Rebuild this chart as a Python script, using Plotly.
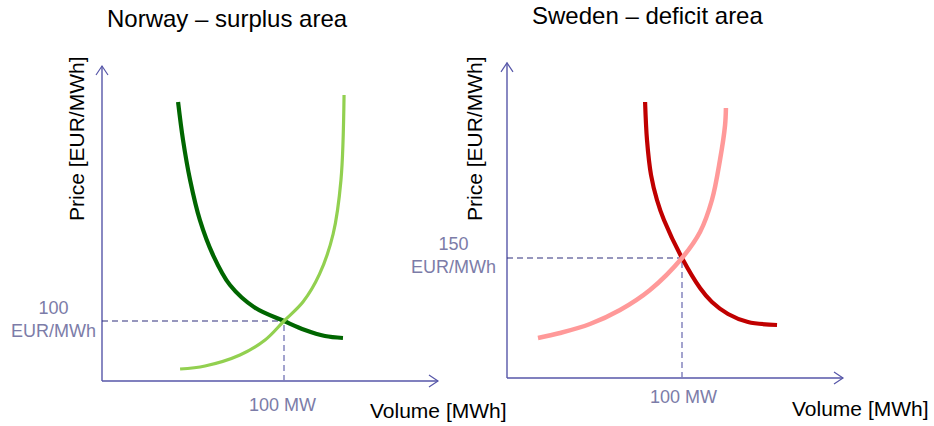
import plotly.graph_objects as go

W, H = 934, 426
FONT = "Liberation Sans, Arial, sans-serif"

# ---------------- data ----------------
no_demand_volume = [41.8, 44.5, 48.4, 53.8, 61, 70.3, 84.1, 100, 111.5, 122.5, 132.4]
no_demand_price = [465, 402, 335, 268, 210, 160, 122, 100, 85, 75, 71.7]
no_supply_volume = [42.9, 56.6, 75.8, 89.6, 100, 110.5, 119.5, 127, 131.3, 133]
no_supply_price = [20, 25, 43.3, 68.3, 100, 132, 178, 245, 335, 476.7]

se_demand_volume = [78.9, 80, 82.3, 85.7, 89.7, 100, 110.3, 117.1, 126.3, 137.7, 154.3]
se_demand_price = [345, 297.5, 253.75, 222.5, 197.5, 150, 112.5, 95, 80, 70, 66.25]
se_supply_volume = [17.7, 30.3, 47.4, 64.6, 81.7, 100, 110.3, 117.1, 121.7, 124.6, 125.1]
se_supply_price = [50, 56.25, 67.5, 85, 110, 150, 182.5, 222.5, 272.5, 316, 337.5]

no_eq_volume, no_eq_price = 100, 100
se_eq_volume, se_eq_price = 100, 150

titles = ["Norway – surplus area", "Sweden – deficit area"]
price_labels = ["100<br>EUR/MWh", "150<br>EUR/MWh"]
volume_labels = ["100 MW", "100 MW"]
x_title = "Volume [MWh]"
y_title = "Price [EUR/MWh]"

# ---------------- layout geometry (window pixels) ----------------
panels = [
    dict(dom=(0, 467), ox=102, oy=381, sx=1.82, sy=0.6, xtip=184.6, ytip=525),
    dict(dom=(467, 934), ox=507, oy=378, sx=1.75, sy=0.8, xtip=192, ytip=394),
]

AXIS_C = "#5656a8"
LABEL_C = "#7c7ca8"

fig = go.Figure()


def add_line(xs, ys, ax, color, width, dash="solid"):
    fig.add_trace(go.Scatter(x=xs, y=ys, mode="lines", xaxis=ax[0], yaxis=ax[1],
                             line=dict(color=color, width=width, dash=dash),
                             hoverinfo="skip", showlegend=False))


axes = [("x", "y"), ("x2", "y2")]
eqs = [(no_eq_volume, no_eq_price), (se_eq_volume, se_eq_price)]
curves = [
    [(no_demand_volume, no_demand_price, "#006600", 4.2), (no_supply_volume, no_supply_price, "#92d050", 3.2)],
    [(se_demand_volume, se_demand_price, "#c00000", 4.2), (se_supply_volume, se_supply_price, "#ff9999", 4.5)],
]

for i, p in enumerate(panels):
    ax = axes[i]
    sx, sy = p["sx"], p["sy"]
    # axes arrows
    add_line([0, p["xtip"]], [0, 0], ax, AXIS_C, 1.4)
    add_line([0, 0], [0, p["ytip"]], ax, AXIS_C, 1.4)
    hx = 9 / sx
    add_line([p["xtip"] - hx, p["xtip"], p["xtip"] - hx], [6 / sy, 0, -6 / sy], ax, AXIS_C, 1.2)
    add_line([-6 / sx, 0, 6 / sx], [p["ytip"] - 9 / sy, p["ytip"], p["ytip"] - 9 / sy], ax, AXIS_C, 1.2)
    # dashed guides
    ev, ep = eqs[i]
    add_line([0, ev], [ep, ep], ax, "#2f2f7c", 1.2, "6px,4px")
    add_line([ev, ev], [0, ep], ax, "#7d7dba", 1.4, "6px,4px")
    # curves
    for xs, ys, c, w in curves[i]:
        fig.add_trace(go.Scatter(x=xs, y=ys, mode="lines", xaxis=ax[0], yaxis=ax[1],
                                 line=dict(color=c, width=w, shape="spline", smoothing=1.0),
                                 hoverinfo="skip", showlegend=False))

layout = dict(width=W, height=H, margin=dict(l=0, r=0, t=0, b=0),
              paper_bgcolor="white", plot_bgcolor="white", showlegend=False)
for i, p in enumerate(panels):
    sfx = "" if i == 0 else str(i + 1)
    d0, d1 = p["dom"]
    xr = [(d0 - p["ox"]) / p["sx"], (d1 - p["ox"]) / p["sx"]]
    yr = [(p["oy"] - H) / p["sy"], p["oy"] / p["sy"]]
    layout["xaxis" + sfx] = dict(domain=[d0 / W, d1 / W], range=xr,
                                 visible=False, anchor="y" + sfx)
    layout["yaxis" + sfx] = dict(domain=[0, 1], range=yr, visible=False, anchor="x" + sfx)
fig.update_layout(**layout)


def ann(text, x, y, size, color="black", xanchor="center", angle=0, align="center"):
    fig.add_annotation(text=text, x=x / W, y=1 - y / H, xref="paper", yref="paper",
                       showarrow=False, xanchor=xanchor, yanchor="middle", textangle=angle,
                       align=align, font=dict(family=FONT, size=size, color=color))


# titles
ann(titles[0], 227, 19, 24)
ann(titles[1], 647, 16, 24)
# axis titles
ann(y_title, 77, 139, 21, angle=-90)
ann(y_title, 474, 138, 21, angle=-90)
ann(x_title, 438, 410, 21)
ann(x_title, 860, 408, 21)
# equilibrium labels
ann(volume_labels[0], 282, 405, 18, LABEL_C)
ann(volume_labels[1], 683, 397, 18, LABEL_C)
ann(price_labels[0], 98, 319, 18, LABEL_C, xanchor="right")
ann(price_labels[1], 498, 255, 18, LABEL_C, xanchor="right")

# place the figure at the window's top-left corner (no default page margin)
fig.write_html("out.html", config={"displayModeBar": False, "staticPlot": True},
               post_script="document.body.style.margin='0';")
